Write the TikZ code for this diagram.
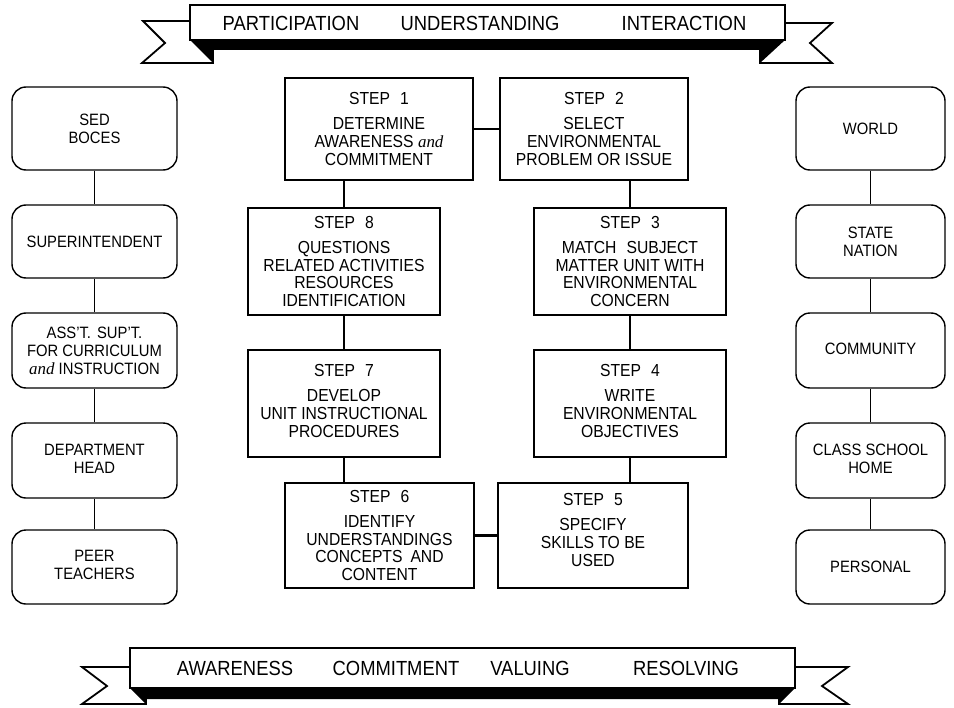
\documentclass[tikz,border=0pt]{standalone}
\usepackage{fontspec}
\setmainfont{Liberation Sans}[FakeStretch=0.9]
\newfontfamily\andfam{Liberation Serif}
\newcommand\steptxt{\fontsize{17.5}{18}\selectfont}
\newcommand\sidetxt{\fontsize{16.5}{18}\selectfont}
\newcommand\bantxt{\fontsize{20.5}{20}\selectfont}
\newcommand\andw{{\andfam\itshape\fontsize{17}{17}\selectfont and}}
\newcommand\steptitle[1]{STEP\hspace{10bp}#1\\[7bp]}
\begin{document}
\begin{tikzpicture}[x=1bp,y=-1bp,
  stepbox/.style={draw, line width=2.6bp, fill=white, inner sep=2bp, align=center, font=\steptxt},
  sidebox/.style={draw, line width=1.4bp, rounded corners=14bp, align=center, font=\sidetxt, inner sep=2bp},
  leftbox/.style={sidebox, minimum width=165bp},
  rightbox/.style={sidebox, minimum width=149bp},
  link/.style={line width=2.2bp},
  sidelink/.style={line width=1.4bp},
  banline/.style={line width=1.8bp, line join=miter},
  bantext/.style={font=\bantxt, inner sep=0bp},
]
\useasboundingbox (0,0) rectangle (954,708);
\fill[white] (0,0) rectangle (954,708);

% ---- top banner ----
\draw[banline, fill=white] (190,21) -- (143,21) -- (165,43) -- (142,63) -- (213,63) -- (213,40) -- (190,40) -- cycle;
\draw[banline, fill=white] (785,23) -- (832,23) -- (810,43) -- (832,63) -- (760,63) -- (760,40) -- (785,40) -- cycle;
\fill[black] (190,40) -- (785,40) -- (760,63) -- (760,50) -- (213,50) -- (213,63) -- cycle;
\draw[banline, fill=white] (190,5) rectangle (785,40);
\node[bantext] (tb1) at (291,23) {PARTICIPATION};
\node[bantext] (tb2) at (480,23) {UNDERSTANDING};
\node[bantext] (tb3) at (684,23) {INTERACTION};

% ---- bottom banner ----
\draw[banline, fill=white] (130,667) -- (82,667) -- (107,686) -- (82,704) -- (146,704) -- (146,688) -- (130,688) -- cycle;
\draw[banline, fill=white] (795,667) -- (848,667) -- (822,686) -- (848,704) -- (779,704) -- (779,688) -- (795,688) -- cycle;
\fill[black] (130,688) -- (795,688) -- (779,704) -- (779,699) -- (146,699) -- (146,704) -- cycle;
\draw[banline, fill=white] (130,648) rectangle (795,688);
\node[bantext] (bb1) at (235,668) {AWARENESS};
\node[bantext] (bb2) at (396,668) {COMMITMENT};
\node[bantext] (bb3) at (530,668) {VALUING};
\node[bantext] (bb4) at (686,668) {RESOLVING};

% ---- steps ----
\node[stepbox, minimum width=188bp, minimum height=102bp] (s1) at (379,129)
  {\steptitle{1}DETERMINE\\AWARENESS \andw\\COMMITMENT};
\node[stepbox, minimum width=188bp, minimum height=102bp] (s2) at (594,129)
  {\steptitle{2}SELECT\\ENVIRONMENTAL\\PROBLEM OR ISSUE};
\node[stepbox, minimum width=192bp, minimum height=107bp] (s8) at (344,261.5)
  {\steptitle{8}QUESTIONS\\RELATED ACTIVITIES\\RESOURCES\\IDENTIFICATION};
\node[stepbox, minimum width=192bp, minimum height=107bp] (s3) at (630,261.5)
  {\steptitle{3}MATCH\hspace{10bp}SUBJECT\\MATTER UNIT WITH\\ENVIRONMENTAL\\CONCERN};
\node[stepbox, minimum width=192bp, minimum height=107bp] (s7) at (344,403.5)
  {\steptitle{7}DEVELOP\\UNIT INSTRUCTIONAL\\PROCEDURES\\[-12bp]\mbox{}};
\node[stepbox, minimum width=192bp, minimum height=107bp] (s4) at (630,403.5)
  {\steptitle{4}WRITE\\ENVIRONMENTAL\\OBJECTIVES\\[-12bp]\mbox{}};
\node[stepbox, minimum width=189bp, minimum height=105bp] (s6) at (379.5,535.5)
  {\steptitle{6}IDENTIFY\\UNDERSTANDINGS\\CONCEPTS\hspace{8bp}AND\\CONTENT};
\node[stepbox, minimum width=190bp, minimum height=105bp] (s5) at (593,535.5)
  {\steptitle{5}SPECIFY\\SKILLS TO BE\\USED\\[-7bp]\mbox{}};

\draw[link] (s1) -- (s2);
\draw[link] (s8.north) -- (s8.north |- s1.south);
\draw[link] (s3.north) -- (s3.north |- s2.south);
\draw[link] (s8) -- (s7);
\draw[link] (s3) -- (s4);
\draw[link] (s7.south) -- (s7.south |- s6.north);
\draw[link] (s4.south) -- (s4.south |- s5.north);
\draw[link] (s6) -- (s5);

% ---- left column ----
\node[leftbox, minimum height=83bp] (l1) at (94.5,128.5) {SED\\BOCES};
\node[leftbox, minimum height=73bp] (l2) at (94.5,241.5) {SUPERINTENDENT};
\node[leftbox, minimum height=75bp] (l3) at (94.5,350.5) {ASS'T.\hspace{6bp}SUP'T.\\FOR CURRICULUM\\\andw\ INSTRUCTION};
\node[leftbox, minimum height=75bp] (l4) at (94.5,460.5) {\raisebox{8bp}{\begin{tabular}{@{}c@{}}DEPARTMENT\\HEAD\end{tabular}}};
\node[leftbox, minimum height=74bp] (l5) at (94.5,567) {\raisebox{6bp}{\begin{tabular}{@{}c@{}}PEER\\TEACHERS\end{tabular}}};
\draw[sidelink] (l1) -- (l2);
\draw[sidelink] (l2) -- (l3);
\draw[sidelink] (l3) -- (l4);
\draw[sidelink] (l4) -- (l5);

% ---- right column ----
\node[rightbox, minimum height=83bp] (r1) at (870.5,128.5) {WORLD};
\node[rightbox, minimum height=73bp] (r2) at (870.5,241.5) {STATE\\NATION};
\node[rightbox, minimum height=75bp] (r3) at (870.5,350.5) {\raisebox{3bp}{COMMUNITY}};
\node[rightbox, minimum height=75bp] (r4) at (870.5,460.5) {\raisebox{8bp}{\begin{tabular}{@{}c@{}}CLASS SCHOOL\\HOME\end{tabular}}};
\node[rightbox, minimum height=74bp] (r5) at (870.5,567) {PERSONAL};
\draw[sidelink] (r1) -- (r2);
\draw[sidelink] (r2) -- (r3);
\draw[sidelink] (r3) -- (r4);
\draw[sidelink] (r4) -- (r5);
\end{tikzpicture}
\end{document}
